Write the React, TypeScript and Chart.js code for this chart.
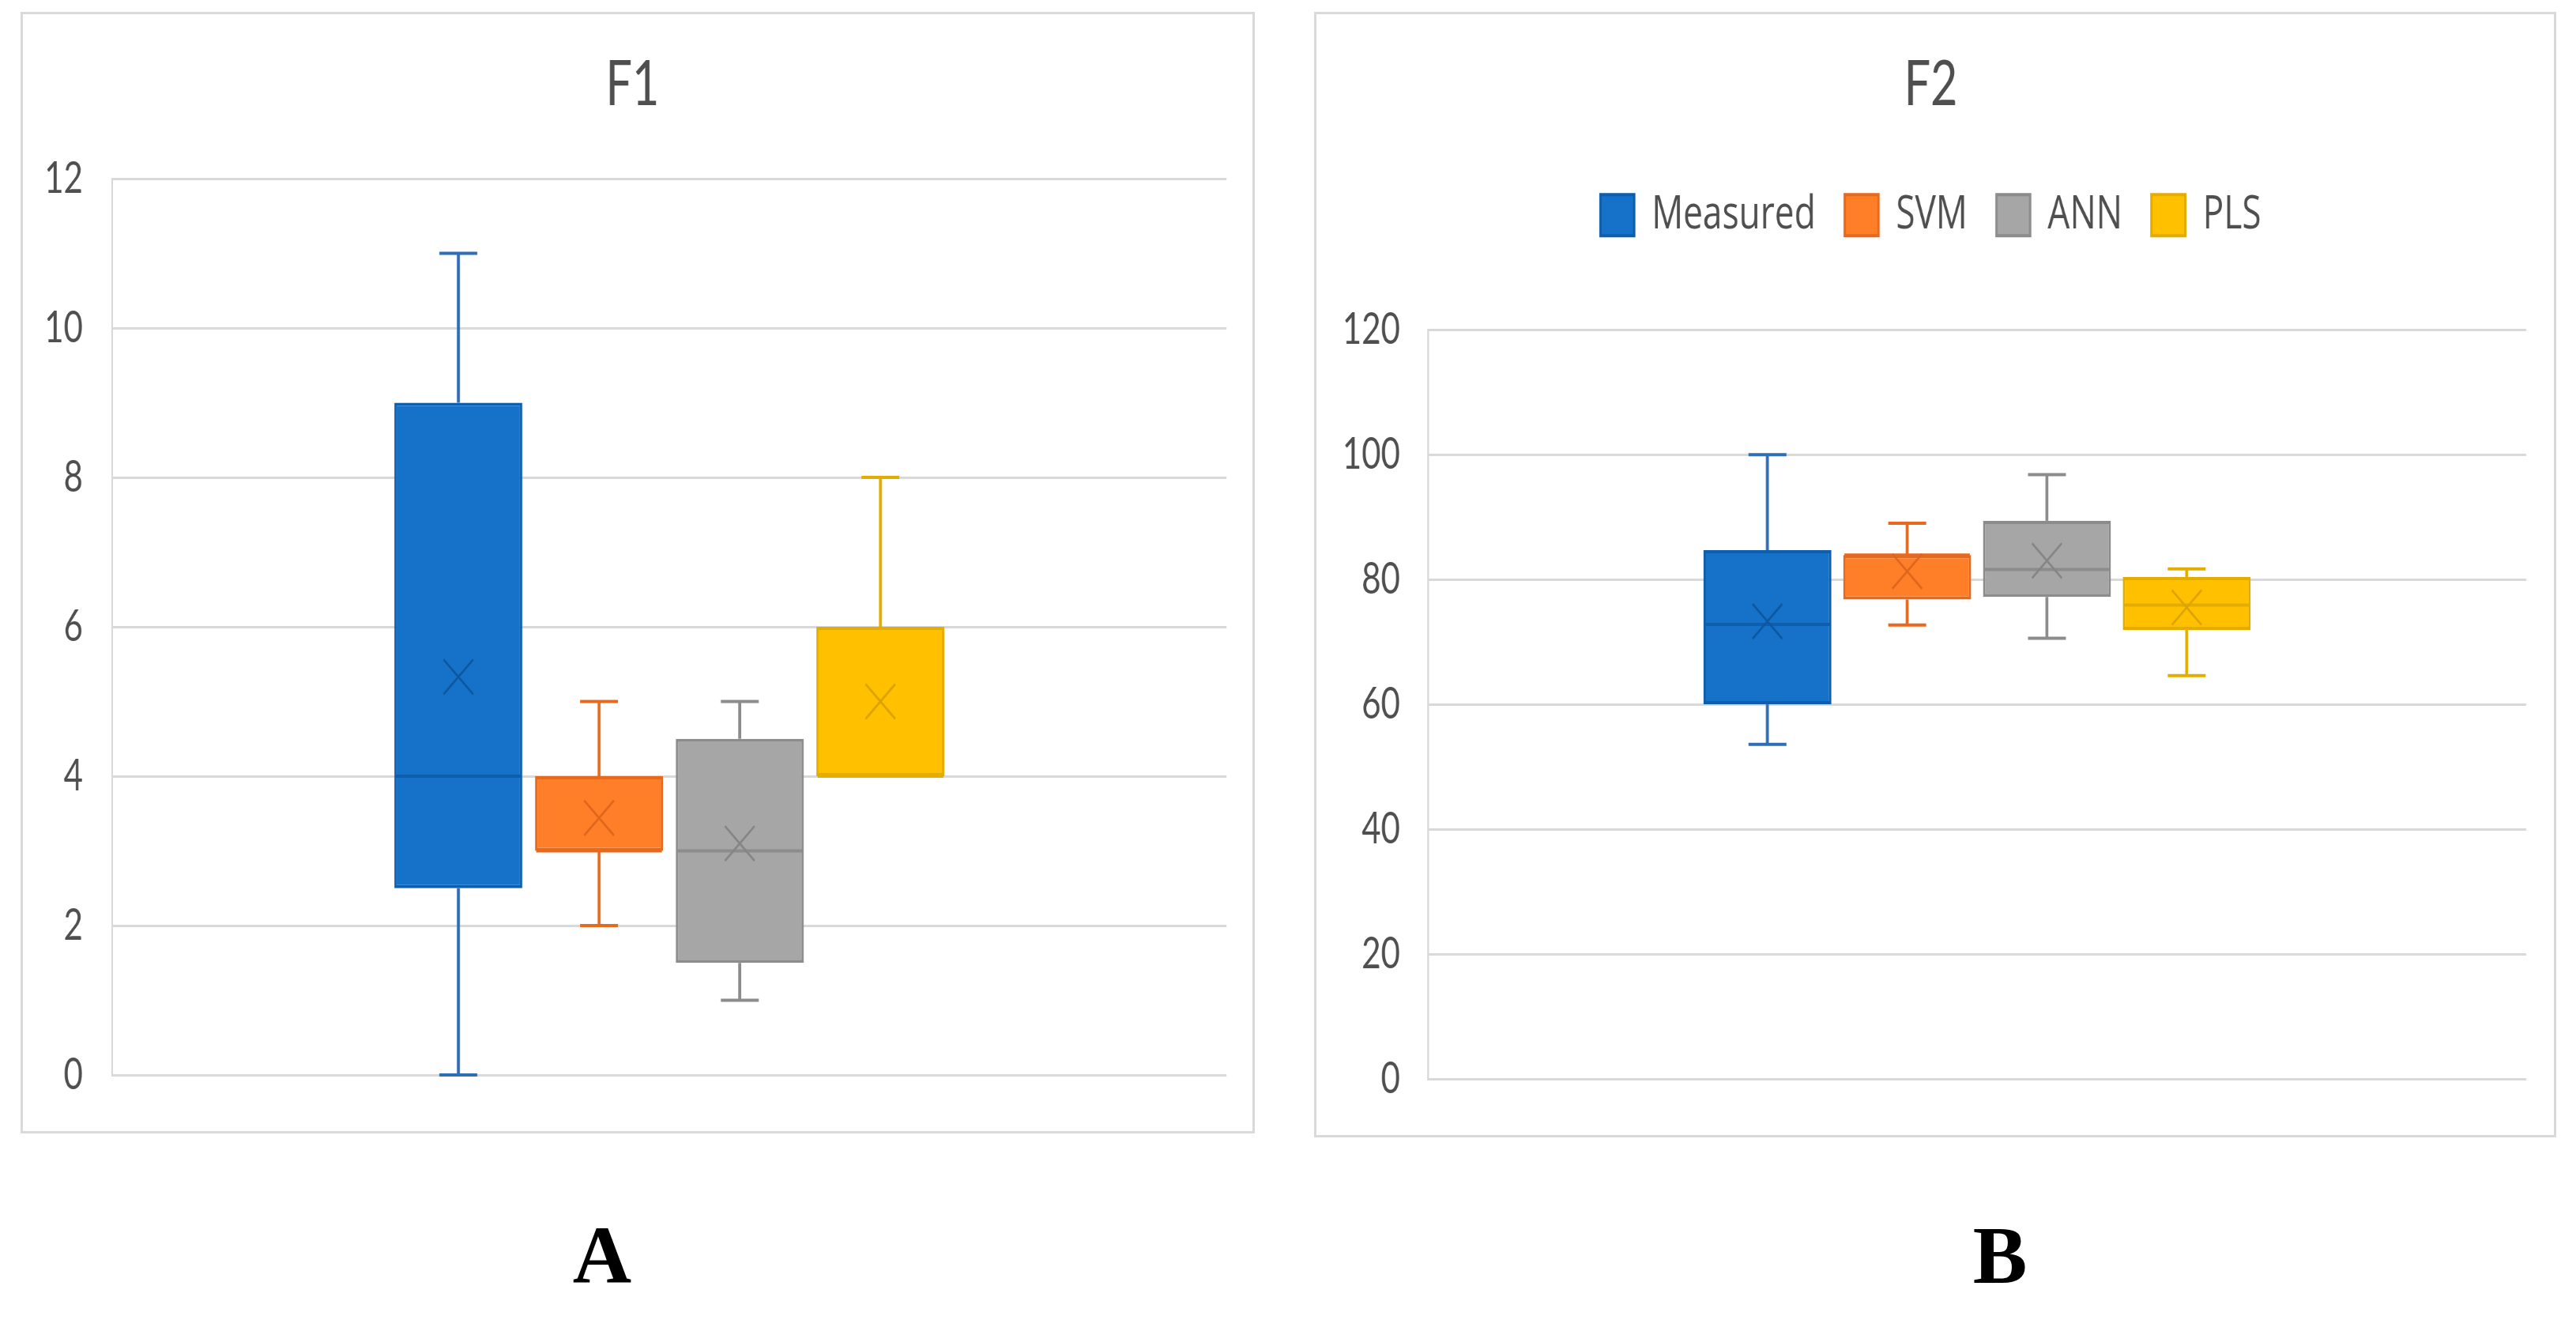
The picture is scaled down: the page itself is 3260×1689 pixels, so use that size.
import React, { useEffect, useRef } from 'react';
import { Chart, registerables } from 'chart.js';

Chart.register(...registerables);

// ---------- data ----------
const SERIES = ['Measured', 'SVM', 'ANN', 'PLS'];

const F1_MIN = [0, 2, 1, 4];
const F1_Q1 = [2.5, 3, 1.5, 4];
const F1_MEDIAN = [4, 3, 3, 4];
const F1_Q3 = [9, 4, 4.5, 6];
const F1_MAX = [11, 5, 5, 8];
const F1_MEAN = [5.33, 3.44, 3.1, 5];
const F1_TICKS = [0, 2, 4, 6, 8, 10, 12];

const F2_MIN = [53.6, 72.7, 70.6, 64.6];
const F2_Q1 = [60, 76.8, 77.2, 71.9];
const F2_MEDIAN = [72.8, 83.9, 81.6, 75.9];
const F2_Q3 = [84.7, 83.9, 89.4, 80.4];
const F2_MAX = [100, 89, 96.8, 81.7];
const F2_MEAN = [73.3, 81.3, 83, 75.5];
const F2_TICKS = [0, 20, 40, 60, 80, 100, 120];

// ---------- styles ----------
const SQUEEZE = 0.75;
const FONT = 'Lato, "Open Sans", sans-serif';
const LEGEND_FONT = '"Open Sans", Lato, sans-serif';
const TEXT = '#4f4f4f';
const GRID = '#d9d9d9';
const FILL = ['#1672C9', '#FE7F27', '#A6A6A6', '#FFC000'];
const EDGE = ['#0F5EAD', '#E8691D', '#8C8C8C', '#E5AC00'];
const WHISK = ['#2F6DB5', '#E8691D', '#8C8C8C', '#E5AC00'];
const MARK = ['#0D57A0', '#DF661C', '#858585', '#DDA300'];

type Stats = {
  min: number[]; q1: number[]; median: number[]; q3: number[]; max: number[]; mean: number[];
};

const boxPlugin = {
  id: 'boxWhiskers',
  beforeDatasetsDraw(chart: any, _args: any, opts: any) {
    const st: Stats = opts.stats;
    const y = chart.scales.y;
    const ctx = chart.ctx;
    ctx.save();
    ctx.lineCap = 'butt';
    st.min.forEach((_: number, i: number) => {
      const el = chart.getDatasetMeta(i).data[0];
      if (!el) return;
      const x = el.x;
      const cap = 32;
      ctx.strokeStyle = WHISK[i];
      const seg = (from: number, to: number) => {
        if (from === to) return;
        const p1 = y.getPixelForValue(from);
        const p2 = y.getPixelForValue(to);
        ctx.lineWidth = 5;
        ctx.beginPath();
        ctx.moveTo(x, p1);
        ctx.lineTo(x, p2);
        ctx.stroke();
        ctx.lineWidth = 4;
        ctx.beginPath();
        ctx.moveTo(x - cap, p2);
        ctx.lineTo(x + cap, p2);
        ctx.stroke();
      };
      seg(st.q3[i], st.max[i]);
      seg(st.q1[i], st.min[i]);
    });
    ctx.restore();
  },
  afterDatasetsDraw(chart: any, _args: any, opts: any) {
    const st: Stats = opts.stats;
    const y = chart.scales.y;
    const ctx = chart.ctx;
    ctx.save();
    st.min.forEach((_: number, i: number) => {
      const el = chart.getDatasetMeta(i).data[0];
      if (!el) return;
      const x = el.x;
      const w = el.width;
      // median
      const pm = y.getPixelForValue(st.median[i]);
      ctx.strokeStyle = EDGE[i];
      ctx.lineWidth = 4;
      ctx.beginPath();
      ctx.moveTo(x - w / 2 + 2, pm);
      ctx.lineTo(x + w / 2 - 2, pm);
      ctx.stroke();
      // mean marker
      const py = y.getPixelForValue(st.mean[i]);
      const hx = 25;
      const hy = 22;
      ctx.strokeStyle = MARK[i];
      ctx.lineWidth = 3;
      ctx.beginPath();
      ctx.moveTo(x - hx, py - hy);
      ctx.lineTo(x + hx, py + hy);
      ctx.moveTo(x + hx, py - hy);
      ctx.lineTo(x - hx, py + hy);
      ctx.stroke();
    });
    ctx.restore();
  },
};

type PanelProps = {
  title: string;
  left: number;
  top: number;
  width: number;
  height: number;
  stats: Stats;
  ticks: number[];
  yMax: number;
  legend: boolean;
  titlePadBottom: number;
  xAxisHeight: number;
  yAxisWidth: number;
  tickLen: number;
  tickPad: number;
  padLeft: number;
  padRight: number;
  padBottom: number;
  catPct: number;
  barPct: number;
};

function BoxPanel(p: PanelProps) {
  const ref = useRef<HTMLCanvasElement | null>(null);
  const cw = Math.round(p.width / SQUEEZE);

  useEffect(() => {
    if (!ref.current) return;
    const chart = new Chart(ref.current, {
      type: 'bar',
      data: {
        labels: [p.title],
        datasets: SERIES.map((name, i) => ({
          label: name,
          data: [[p.stats.q1[i], p.stats.q3[i]]] as any,
          backgroundColor: FILL[i],
          borderColor: EDGE[i],
          borderWidth: 4,
          borderSkipped: false,
          categoryPercentage: p.catPct,
          barPercentage: p.barPct,
        })),
      },
      options: {
        responsive: false,
        animation: false,
        devicePixelRatio: 1,
        events: [],
        layout: { padding: { left: p.padLeft, right: p.padRight, top: 0, bottom: p.padBottom } },
        plugins: {
          title: {
            display: true,
            text: p.title,
            color: TEXT,
            font: { family: FONT, size: 79, weight: 'normal' },
            padding: { top: 45, bottom: p.titlePadBottom },
          },
          legend: {
            display: p.legend,
            position: 'top',
            labels: {
              font: { family: LEGEND_FONT, size: 59 },
              color: TEXT,
              boxWidth: 57,
              boxHeight: 52,
              padding: 49,
            },
          },
          tooltip: { enabled: false },
          boxWhiskers: { stats: p.stats },
        } as any,
        scales: {
          x: {
            display: p.xAxisHeight > 0,
            position: 'top',
            ticks: { display: false },
            grid: { display: false },
            border: { display: false },
            afterFit: (s: any) => {
              s.height = p.xAxisHeight;
            },
          },
          y: {
            min: 0,
            max: p.yMax,
            afterBuildTicks: (s: any) => {
              s.ticks = p.ticks.map((v) => ({ value: v }));
            },
            ticks: {
              color: TEXT,
              font: { family: FONT, size: 56 },
              padding: p.tickPad,
            },
            grid: {
              color: GRID,
              lineWidth: 3,
              drawTicks: true,
              tickLength: p.tickLen,
              tickColor: 'rgba(0,0,0,0)',
            },
            border: { display: true, color: GRID, width: 3 },
            afterFit: (s: any) => {
              s.width = p.yAxisWidth;
            },
          },
        },
      },
      plugins: [boxPlugin as any],
    });
    return () => chart.destroy();
  }, []);

  return (
    <>
      <div
        style={{
          position: 'absolute',
          left: p.left,
          top: p.top,
          width: cw,
          height: p.height,
          transform: `scaleX(${SQUEEZE})`,
          transformOrigin: '0 0',
        }}
      >
        <canvas ref={ref} width={cw} height={p.height} style={{ display: 'block' }} />
      </div>
      <div
        style={{
          position: 'absolute',
          left: p.left,
          top: p.top,
          width: p.width,
          height: p.height,
          boxSizing: 'border-box',
          border: `3px solid ${GRID}`,
          pointerEvents: 'none',
        }}
      />
    </>
  );
}

const labelStyle = (center: number): React.CSSProperties => ({
  position: 'absolute',
  left: center - 150,
  width: 300,
  top: 1537,
  textAlign: 'center',
  fontFamily: '"Liberation Serif", "Times New Roman", serif',
  fontWeight: 'bold',
  fontSize: 103,
  lineHeight: '103px',
  color: '#000',
});

export default function App() {
  const f1: Stats = { min: F1_MIN, q1: F1_Q1, median: F1_MEDIAN, q3: F1_Q3, max: F1_MAX, mean: F1_MEAN };
  const f2: Stats = { min: F2_MIN, q1: F2_Q1, median: F2_MEDIAN, q3: F2_Q3, max: F2_MAX, mean: F2_MEAN };
  return (
    <div>
      <BoxPanel
        title="F1"
        left={26}
        top={15}
        width={1562}
        height={1419}
        stats={f1}
        ticks={F1_TICKS}
        yMax={12}
        legend={false}
        titlePadBottom={71.2}
        xAxisHeight={0}
        yAxisWidth={124.7}
        tickLen={45}
        tickPad={4.4}
        padLeft={30}
        padRight={48}
        padBottom={74}
        catPct={0.505}
        barPct={0.91}
      />
      <BoxPanel
        title="F2"
        left={1663}
        top={15}
        width={1572}
        height={1424}
        stats={f2}
        ticks={F2_TICKS}
        yMax={120}
        legend={true}
        titlePadBottom={38.9}
        xAxisHeight={105.5}
        yAxisWidth={156}
        tickLen={42}
        tickPad={4.7}
        padLeft={36}
        padRight={50.7}
        padBottom={74}
        catPct={0.509}
        barPct={0.915}
      />
      <div style={labelStyle(762)}>A</div>
      <div style={labelStyle(2531)}>B</div>
    </div>
  );
}
